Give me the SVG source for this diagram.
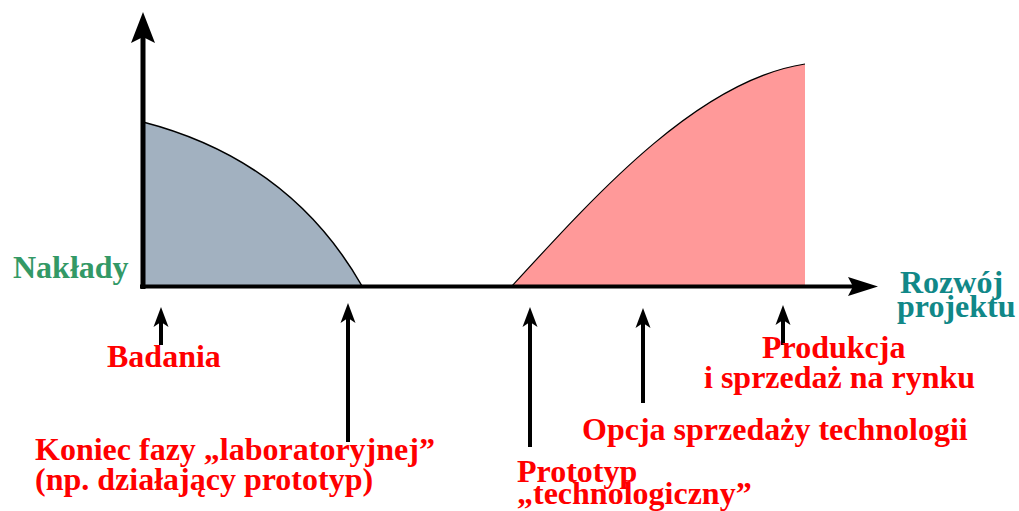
<svg xmlns="http://www.w3.org/2000/svg" width="1019" height="511" viewBox="0 0 1019 511">
  <style>
    .lbl { font-family: "Liberation Serif", "Times New Roman", serif; font-weight: bold; font-size: 32px; }
    .red { fill: #FF0000; }
    .ptr { stroke: #000; stroke-width: 4; fill: none; }
  </style>
  <defs>
    <marker id="head" markerUnits="userSpaceOnUse" viewBox="-6 -9 24 18" markerWidth="24" markerHeight="18" refX="0" refY="0" orient="auto">
      <path d="M15,0 L-5,-7.5 L0,0 L-5,7.5 Z" fill="#000"/>
    </marker>
    <marker id="bighead" markerUnits="userSpaceOnUse" viewBox="-8 -14 36 28" markerWidth="36" markerHeight="28" refX="0" refY="0" orient="auto">
      <path d="M25,0 L-6,-12 L0,0 L-6,12 Z" fill="#000"/>
    </marker>
    <marker id="bighead2" markerUnits="userSpaceOnUse" viewBox="-8 -12 36 24" markerWidth="36" markerHeight="24" refX="0" refY="0" orient="auto">
      <path d="M25,0 L-5,-9.5 L0,0 L-5,9.5 Z" fill="#000"/>
    </marker>
  </defs>

  <g id="area-badania">
    <path d="M143,122 Q290,160 362,286 L143,286 Z" fill="#A2B1C0" stroke="none"/>
    <path d="M143,122 Q290,160 362,286" fill="none" stroke="#000" stroke-width="1.5"/>
  </g>
  <g id="area-produkcja">
    <path d="M512,286 C600,190 700,80 805,64 L805,286 Z" fill="#FF9999" stroke="none"/>
    <path d="M512,286 C600,190 700,80 805,64" fill="none" stroke="#000" stroke-width="1.2"/>
  </g>

  <g id="axes">
    <line x1="143" y1="289" x2="143" y2="37" stroke="#000" stroke-width="5" marker-end="url(#bighead)"/>
    <line x1="140" y1="286.5" x2="853" y2="286.5" stroke="#000" stroke-width="4" marker-end="url(#bighead2)"/>
  </g>

  <g id="connectors">
    <line class="ptr" x1="161" y1="345" x2="161" y2="322" marker-end="url(#head)"/>
    <line class="ptr" x1="348" y1="442" x2="348" y2="318" marker-end="url(#head)"/>
    <line class="ptr" x1="530" y1="447" x2="530" y2="322" marker-end="url(#head)"/>
    <line class="ptr" x1="643" y1="403" x2="643" y2="323" marker-end="url(#head)"/>
    <line class="ptr" x1="783" y1="345" x2="783" y2="320" marker-end="url(#head)"/>
  </g>

  <g id="label-naklady">
    <text class="lbl" x="13" y="278" fill="#339966">Nakłady</text>
  </g>
  <g id="label-rozwoj">
    <text class="lbl" x="900" y="293" fill="#118888">Rozwój</text>
    <text class="lbl" x="897" y="317" fill="#118888">projektu</text>
  </g>
  <g id="label-badania">
    <text class="lbl red" x="107" y="367">Badania</text>
  </g>
  <g id="label-koniec">
    <text class="lbl red" x="35" y="460">Koniec fazy „laboratoryjnej”</text>
    <text class="lbl red" x="35" y="490">(np. działający prototyp)</text>
  </g>
  <g id="label-prototyp">
    <text class="lbl red" x="517" y="482">Prototyp</text>
    <text class="lbl red" x="517" y="504">„technologiczny”</text>
  </g>
  <g id="label-opcja">
    <text class="lbl red" x="582" y="440">Opcja sprzedaży technologii</text>
  </g>
  <g id="label-produkcja">
    <text class="lbl red" x="762" y="358">Produkcja</text>
    <text class="lbl red" x="704" y="388">i sprzedaż na rynku</text>
  </g>
</svg>
